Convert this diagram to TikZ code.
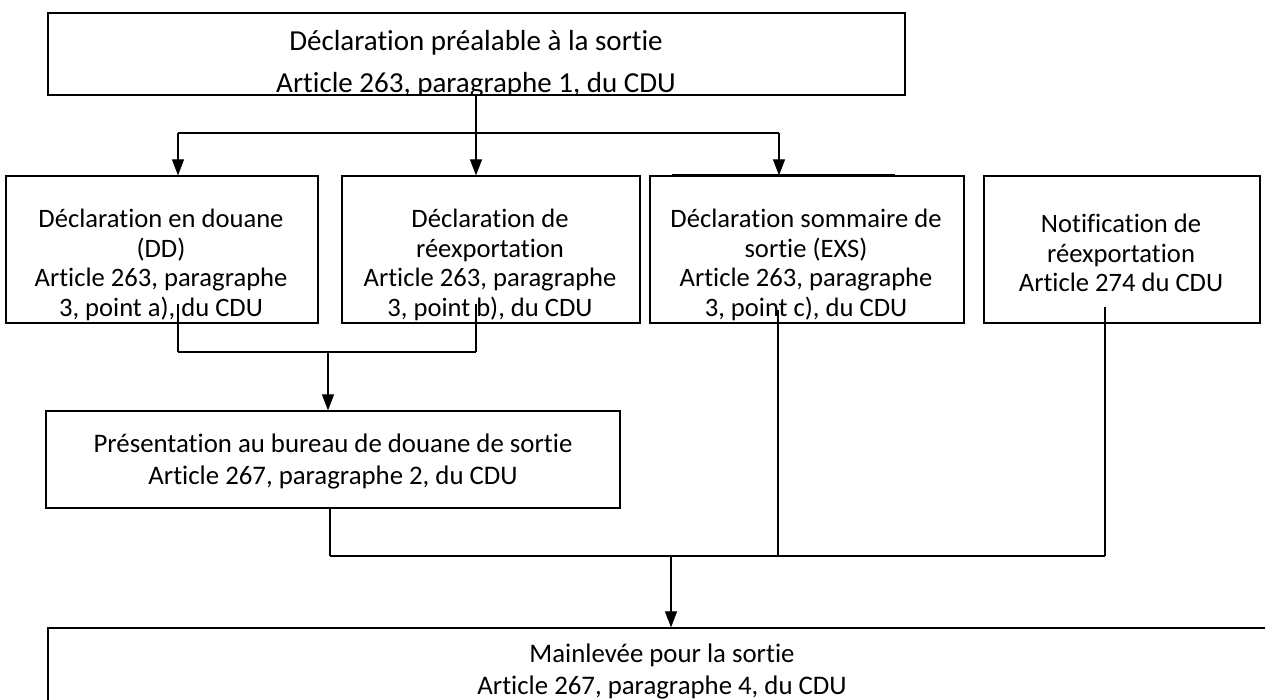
\documentclass[tikz,border=0pt]{standalone}
\usepackage{fontspec}
\setmainfont{Carlito}[Ligatures=NoCommon]
\usetikzlibrary{arrows.meta}

% centred lines whose baseline is the baseline of the first line
\newcommand\linestack[1]{\vtop{\lineskiplimit=-50pt\halign{\hfil##\hfil\cr#1\crcr}}}

\tikzset{
  box/.style={draw=black, line width=1.2pt, fill=white, inner sep=0pt},
  txt/.style={inner sep=0pt, anchor=base},
  toptxt/.style={txt, font=\fontsize{29}{42}\selectfont},
  rowtxt/.style={txt, font=\fontsize{26.6}{29.5}\selectfont},
  notiftxt/.style={txt, font=\fontsize{26.6}{29.5}\selectfont},
  lowtxt/.style={txt, font=\fontsize{26.8}{32}\selectfont},
  conn/.style={draw=black, line width=1.1pt},
  joinline/.style={draw=black, line width=1.6pt},
  arr/.style={conn, -{Triangle[length=16pt,width=12pt]}}
}

\begin{document}
\begin{tikzpicture}[x=1pt,y=-1pt]
\useasboundingbox (0,0) rectangle (1265,700);

% boxes
\node[box, minimum width=857pt, minimum height=82pt]  (top)   at (476.5,54) {};
\node[box, minimum width=312pt, minimum height=147pt] (dd)    at (162,249.5) {};
\node[box, minimum width=298pt, minimum height=147pt] (reexp) at (491,249.5) {};
\node[box, minimum width=314pt, minimum height=147pt] (exs)   at (807,249.5) {};
\node[box, minimum width=276pt, minimum height=147pt] (notif) at (1122,249.5) {};
\node[box, minimum width=574pt, minimum height=97pt]  (pres)  at (333,459.5) {};
\node[box, minimum width=1228pt, minimum height=112pt] (main) at (662,684) {};

% heavier stroke lying on the top edge of the EXS box
\draw[line width=2.2pt] (672,175) -- (895,175);

% texts (the second line of the top box runs under its lower edge)
\begin{scope}
  \clip (top.north west) rectangle (top.south east);
  \node[toptxt] (topt) at (476,51) {\linestack{Déclaration préalable à la sortie\cr Article 263, paragraphe 1, du CDU}};
\end{scope}
\draw[box, fill=none] (top.north west) rectangle (top.south east);
\node[rowtxt] (ddt)    at (161,228) {\linestack{Déclaration en douane\cr (DD)\cr Article 263, paragraphe\cr 3, point a), du CDU}};
\node[rowtxt] (reexpt) at (490,228) {\linestack{Déclaration de\cr réexportation\cr Article 263, paragraphe\cr 3, point b), du CDU}};
\node[rowtxt] (exst)   at (806,228) {\linestack{Déclaration sommaire de\cr sortie (EXS)\cr Article 263, paragraphe\cr 3, point c), du CDU}};
\node[notiftxt] (notift) at (1121,233) {\linestack{Notification de\cr réexportation\cr Article 274 du CDU}};
\node[lowtxt] (prest)  at (333,452.5) {\linestack{Présentation au bureau de douane de sortie\cr Article 267, paragraphe 2, du CDU}};
\node[lowtxt] (maint)  at (662,662) {\linestack{Mainlevée pour la sortie\cr Article 267, paragraphe 4, du CDU}};

% junction points
\coordinate (a1) at (178,133);
\coordinate (a2) at (476,133);
\coordinate (a3) at (779,133);
\coordinate (s1) at (178,304);
\coordinate (s2) at (476,304);
\coordinate (b1) at (178,352);
\coordinate (b2) at (476,352);
\coordinate (bm) at (328,352);
\coordinate (s3) at (778,310);
\coordinate (s4) at (1105,307);
\coordinate (c0) at (330,556);
\coordinate (c3) at (778,556);
\coordinate (c4) at (1105,556);
\coordinate (cm) at (671,556);

% from the prior declaration to the three declarations
\draw[arr] (top.south -| a2) -- (reexp.north -| a2);
\draw[joinline] (a1) -- (a3);
\draw[arr] (a1) -- (dd.north -| a1);
\draw[arr] (a3) -- (exs.north -| a3);

% DD and re-export declaration to presentation
\draw[conn] (s1) -- (b1);
\draw[conn] (s2) -- (b2);
\draw[joinline] (b1) -- (b2);
\draw[arr] (bm) -- (pres.north -| bm);

% everything to release for exit
\draw[conn] (pres.south -| c0) -- (c0);
\draw[conn] (s3) -- (c3);
\draw[conn] (s4) -- (c4);
\draw[joinline] (c0) -- (c4);
\draw[arr] (cm) -- (main.north -| cm);
\end{tikzpicture}
\end{document}
